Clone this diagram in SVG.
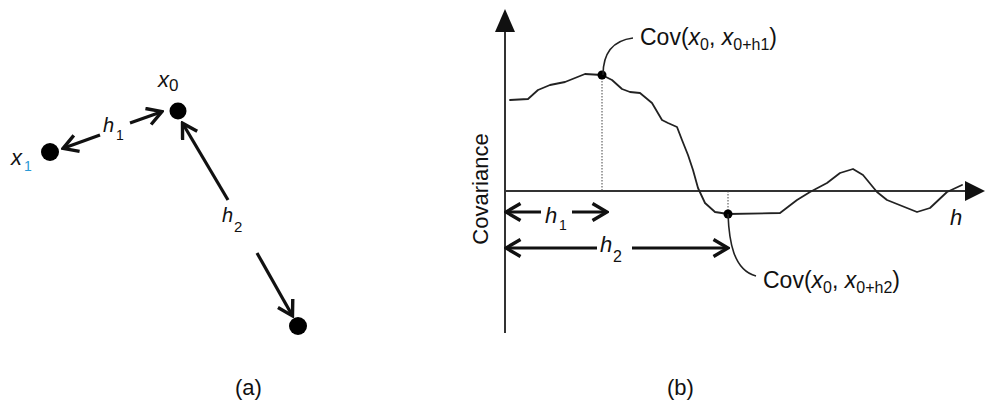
<svg xmlns="http://www.w3.org/2000/svg" width="986" height="404" viewBox="0 0 986 404">
<style>
text{font-family:"Liberation Sans",Arial,sans-serif;fill:#111}
.it{font-style:italic}
.arr{stroke:#111;stroke-width:3.2;fill:none;marker-end:url(#chev)}
.axis{stroke:#333;stroke-width:2;fill:none}
.curve{stroke:#222;stroke-width:1.8;fill:none;stroke-linejoin:round;stroke-linecap:round}
.dot{stroke:#444;stroke-width:1;stroke-dasharray:1.5 1.5;fill:none}
.lead{stroke:#222;stroke-width:1.6;fill:none}
</style>
<defs>
<marker id="chev" viewBox="0 0 18 20" markerWidth="18" markerHeight="20" refX="15" refY="10" orient="auto" markerUnits="userSpaceOnUse">
<path d="M1.5,1.5 L16,10 L1.5,18.5" stroke="#111" stroke-width="3.4" fill="none" stroke-linejoin="miter"/>
</marker>
</defs>

<g id="panel-a">
<g id="node-x0">
<circle cx="178" cy="111" r="8.5" fill="#000"/>
<text x="158" y="87" font-size="22" class="it">x</text>
<text x="169" y="91" font-size="17">0</text>
</g>
<g id="node-x1">
<circle cx="50" cy="152" r="9" fill="#000"/>
<text x="11" y="165" font-size="22" class="it">x</text>
<text x="24" y="171" font-size="14" style="fill:#2a9ad6">1</text>
</g>
<g id="node-x2">
<circle cx="298" cy="326" r="9" fill="#000"/>
</g>
<g id="connectors-a">
<line x1="130" y1="123" x2="161" y2="112" class="arr"/>
<line x1="100" y1="135" x2="64" y2="148" class="arr"/>
<line x1="228" y1="200" x2="183" y2="124" class="arr"/>
<line x1="257" y1="253" x2="292" y2="315" class="arr"/>
<text x="103" y="132" font-size="20" class="it">h</text>
<text x="116" y="140" font-size="14">1</text>
<text x="222" y="222" font-size="20" class="it">h</text>
<text x="234" y="232" font-size="15">2</text>
</g>
</g>

<g id="panel-b">
<g id="axes">
<line x1="505" y1="28" x2="505" y2="333" class="axis"/>
<polygon points="505,9 495,32 515,32" fill="#111"/>
<line x1="505" y1="191" x2="968" y2="191" class="axis"/>
<polygon points="985,191 965,181 965,201" fill="#111"/>
<text transform="translate(488,189) rotate(-90)" text-anchor="middle" font-size="22">Covariance</text>
<text x="950" y="225" font-size="22" class="it">h</text>
</g>
<g id="curve">
<path class="curve" d="M510,100 L528,99 L538,90 L550,85 L565,82 L585,74 L602,75 L612,80 L622,89 L630,92 L640,93 L652,103 L662,120 L668,123 L677,127 L682,140 L688,155 L693,170 L698,188 L705,203 L715,212 L728,214 L780,213 L797,200 L810,192 L827,183 L840,173 L853,169 L863,175 L877,192 L887,200 L917,212 L930,208 L947,192 L962,185"/>
<line x1="602" y1="75" x2="602" y2="191" class="dot"/>
<line x1="728" y1="191" x2="728" y2="214" class="dot"/>
</g>
<g id="point-h1">
<circle cx="602" cy="75" r="4.5" fill="#000"/>
<path class="lead" d="M603,75 C603,58 609,41 633,38"/>
<text x="640" y="45" font-size="23">Cov(<tspan class="it">x</tspan><tspan font-size="16" dy="5">0</tspan><tspan dy="-5">, </tspan><tspan class="it">x</tspan><tspan font-size="16" dy="5">0+h1</tspan><tspan dy="-5">)</tspan></text>
</g>
<g id="point-h2">
<circle cx="728" cy="214" r="4.5" fill="#000"/>
<path class="lead" d="M728,214 C729,240 733,270 756,276"/>
<text x="763" y="288" font-size="23">Cov(<tspan class="it">x</tspan><tspan font-size="16" dy="5">0</tspan><tspan dy="-5">, </tspan><tspan class="it">x</tspan><tspan font-size="16" dy="5">0+h2</tspan><tspan dy="-5">)</tspan></text>
</g>
<g id="connectors-b">
<line x1="541" y1="212" x2="507" y2="212" class="arr"/>
<line x1="572" y1="212" x2="606" y2="212" class="arr"/>
<text x="545" y="223" font-size="22" class="it">h</text>
<text x="559" y="230" font-size="14">1</text>
<line x1="597" y1="248" x2="507" y2="248" class="arr"/>
<line x1="632" y1="248" x2="727" y2="248" class="arr"/>
<text x="600" y="252" font-size="22" class="it">h</text>
<text x="613" y="262" font-size="16">2</text>
</g>
</g>

<text x="235" y="395" font-size="22">(a)</text>
<text x="667" y="395" font-size="22">(b)</text>
</svg>
